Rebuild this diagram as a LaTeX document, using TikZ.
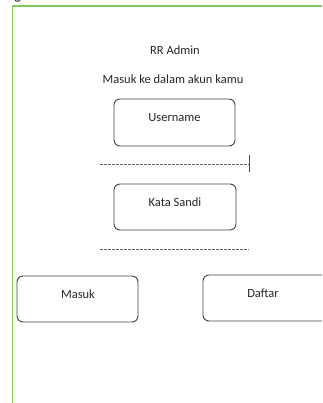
\documentclass[tikz,border=0pt]{standalone}
\usepackage{fontspec}
\setmainfont{Carlito}
\begin{document}
\begin{tikzpicture}[x=1pt,y=-1pt,
  box/.style={draw=black!75,line width=0.9pt,rounded corners=6pt},
  lbl/.style={font=\fontsize{12.5}{14}\selectfont,text=black!85,inner sep=0pt},
  sep/.style={draw=black!60,line width=0.7pt,dash pattern=on 3pt off 1pt}]
\useasboundingbox (0,0) rectangle (322,403);
\begin{scope}
\clip (0,0) rectangle (322,403);
\draw[black!80,line width=1pt] (14.5,-1) .. controls (15,2) and (20,2) .. (20.5,-1);
\draw[draw={rgb,255:red,130;green,200;blue,90},line width=1.2pt] (12.5,410) -- (12.5,6) -- (330,6);
\draw[box] (17,276) rectangle (138,322);
\draw[box] (203,275) rectangle (330,321);
\end{scope}
\node[lbl] (title) at (175,50) {RR Admin};
\node[lbl] (sub) at (173,79) {Masuk ke dalam akun kamu};
\draw[box] (114,99) rectangle (235,146);
\node[lbl] (user) at (174.5,118) {Username};
\coordinate (d1a) at (100,164);
\coordinate (d1b) at (249,164);
\draw[sep] (d1a) -- (d1b);
\draw[black!70,line width=0.8pt] (249,155) -- (249,172);
\draw[box] (114,184) rectangle (236,230);
\node[lbl] (pass) at (175,202) {Kata Sandi};
\coordinate (d2a) at (100,249);
\coordinate (d2b) at (249,249);
\draw[sep] (d2a) -- (d2b);
\node[lbl] (masuk) at (78,294) {Masuk};
\node[lbl] (daftar) at (263,293) {Daftar};
\end{tikzpicture}
\end{document}
